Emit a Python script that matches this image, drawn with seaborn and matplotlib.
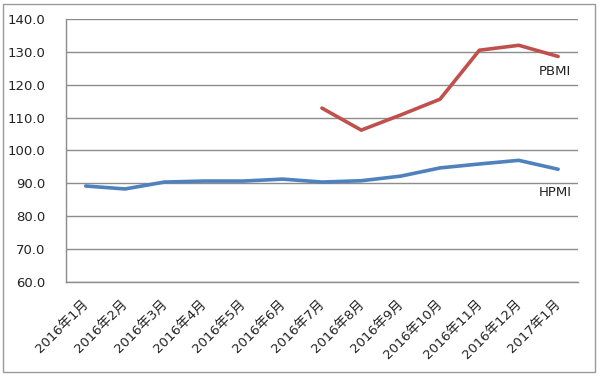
import pandas as pd
import matplotlib.pyplot as plt
import matplotlib.transforms as mtransforms
import seaborn as sns
from matplotlib.patches import Rectangle

sns.set_style("white")
plt.rcParams['font.family'] = ['DejaVu Sans', 'Noto Sans CJK SC']

months = ["2016年1月", "2016年2月", "2016年3月", "2016年4月", "2016年5月",
          "2016年6月", "2016年7月", "2016年8月", "2016年9月", "2016年10月",
          "2016年11月", "2016年12月", "2017年1月"]
hpmi = [89.2, 88.3, 90.4, 90.7, 90.7, 91.3, 90.4, 90.8, 92.2, 94.7, 95.9, 97.0, 94.3]
pbmi_months = months[6:]
pbmi = [112.9, 106.2, 110.8, 115.6, 130.5, 132.0, 128.6]


def main():
    fig = plt.figure(figsize=(6, 3.76), dpi=100)
    ax = fig.add_axes([0.11, 0.25, 0.853, 0.6995])

    hp = pd.DataFrame({"month": months, "value": hpmi})
    pb = pd.DataFrame({"month": pbmi_months, "value": pbmi})
    sns.lineplot(data=hp, x="month", y="value", color="#4F81BD", linewidth=2.6,
                 sort=False, ax=ax)
    sns.lineplot(data=pb, x="month", y="value", color="#C0504D", linewidth=2.6,
                 sort=False, ax=ax)

    ax.set_ylim(60, 140)
    ax.set_yticks(range(60, 141, 10))
    ax.set_yticklabels([f"{v:.1f}" for v in range(60, 141, 10)], fontsize=9.5)
    ax.set_xlim(-0.5, len(months) - 0.5)
    ax.set_xticks(range(len(months)))
    ax.set_xticklabels(months, rotation=45, ha="right", rotation_mode="anchor",
                       fontsize=9.5)
    ax.tick_params(axis="y", length=0, pad=15, colors="#222222")
    ax.tick_params(axis="x", length=0, pad=11, colors="#222222")
    shift = mtransforms.ScaledTranslation(-4 / 100, 0, fig.dpi_scale_trans)
    for lab in ax.get_xticklabels():
        lab.set_transform(lab.get_transform() + shift)
    ax.set_xlabel("")
    ax.set_ylabel("")

    ax.grid(axis="y", color="#8c8c8c", linewidth=1)
    ax.set_axisbelow(True)
    for s in ["top", "right"]:
        ax.spines[s].set_visible(False)
    for s in ["left", "bottom"]:
        ax.spines[s].set_color("#8c8c8c")
        ax.spines[s].set_linewidth(1)

    ax.text(11.93, 124.1, "PBMI", ha="center", va="center", fontsize=9.5,
            color="#222222")
    ax.text(11.93, 87.3, "HPMI", ha="center", va="center", fontsize=9.5,
            color="#222222")

    fig.patches.append(Rectangle((3 / 600, 4 / 376), 592 / 600, 368 / 376,
                                 transform=fig.transFigure, fill=False,
                                 edgecolor="#9a9a9a", linewidth=1))

    fig.savefig("out.png", dpi=100)


if __name__ == "__main__":
    main()
